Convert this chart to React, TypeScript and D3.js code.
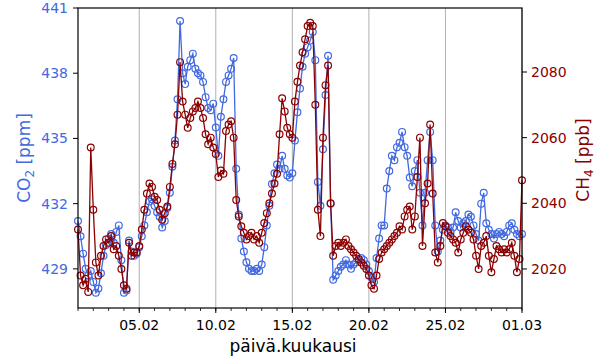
import * as d3 from "d3";
import React from "react";

// 4-hourly samples starting 01.02.2024 00:00
const START = Date.UTC(2024, 1, 1);
const STEP_H = 4;

const co2 = [
  431.2, 430.5, 429.7, 429.0, 428.7, 428.9,
  428.4, 427.9, 428.1, 428.8, 429.6, 430.1,
  430.4, 430.6, 430.2, 430.7, 431.0, 429.4,
  427.9, 428.0, 430.3, 429.8, 429.6, 429.7,
  430.0, 430.5, 431.0, 431.6, 432.1, 432.2,
  431.9, 431.6, 431.4, 430.9, 431.2, 431.8,
  432.5, 433.7, 434.9, 436.8, 440.4, 438.0,
  437.5, 438.3, 438.6, 438.9, 438.2, 438.0,
  437.9, 437.6, 436.9, 436.4, 436.3, 436.6,
  435.5, 434.2, 436.0, 436.8, 437.6, 437.9,
  438.2, 438.7, 433.6, 431.5, 430.4, 429.8,
  429.3, 429.0, 428.9, 428.9, 429.0, 428.9,
  429.2, 430.0, 431.0, 431.9, 432.9, 433.4,
  433.8, 433.6, 434.2, 433.6, 433.3, 433.2,
  433.4, 434.9, 436.2, 437.3, 438.3, 438.9,
  439.2, 439.5, 439.9, 438.6, 433.0, 431.9,
  434.5, 437.0, 438.8, 432.0, 428.5, 428.7,
  428.9, 429.1, 429.2, 429.4, 429.2, 429.0,
  429.2, 429.3, 429.4, 429.5, 429.4, 429.2,
  428.9, 428.6, 428.4, 429.5, 430.4, 431.0,
  431.0, 432.7, 433.5, 434.2, 434.0, 434.6,
  434.8, 435.3, 434.6, 434.2, 433.2, 432.8,
  433.5, 434.0, 432.5, 431.0, 432.5, 434.0,
  435.3, 434.0, 431.0, 429.8, 430.3, 430.8,
  431.0, 430.9, 430.7, 430.9, 431.6, 431.2,
  430.9, 431.1, 431.2, 431.5, 431.4, 431.0,
  430.6, 430.3, 432.0, 432.5, 431.1, 430.8,
  430.6, 430.4, 430.6, 430.7, 430.6, 430.5,
  430.7, 431.0, 431.1, 430.8, 430.6, 430.5,
  430.6,
];

const ch4 = [
  2032, 2018, 2015, 2017, 2013, 2057,
  2038, 2022, 2018, 2024, 2027, 2029,
  2028, 2030, 2026, 2027, 2024, 2020,
  2015, 2014, 2028, 2024, 2025, 2025,
  2027, 2032, 2038, 2043, 2046, 2045,
  2042, 2041, 2038, 2035, 2037, 2039,
  2045, 2052, 2058, 2067, 2083, 2071,
  2067, 2063, 2066, 2068, 2069, 2071,
  2069, 2066, 2061, 2058, 2060, 2057,
  2055, 2048, 2050, 2049, 2062, 2064,
  2065, 2060, 2041, 2036, 2033, 2031,
  2029, 2030, 2031, 2029, 2030, 2028,
  2031, 2034, 2037, 2040, 2043, 2046,
  2049, 2061, 2072, 2068, 2063, 2061,
  2060, 2071, 2077, 2082, 2086, 2090,
  2094, 2095, 2094, 2070, 2038, 2030,
  2060, 2076, 2082, 2040, 2024, 2027,
  2028, 2027, 2028, 2029, 2027, 2026,
  2025, 2024, 2023, 2022, 2021, 2020,
  2018, 2015, 2014, 2018, 2023, 2025,
  2026, 2027, 2028, 2029, 2030, 2031,
  2033, 2032, 2036, 2038, 2039, 2032,
  2036, 2048, 2060, 2027, 2040, 2046,
  2064, 2043, 2025, 2022, 2027, 2034,
  2033, 2031, 2030, 2029, 2028, 2025,
  2029, 2031, 2033, 2032, 2031, 2029,
  2024, 2020, 2027, 2028, 2030, 2024,
  2019, 2023, 2027, 2026, 2025, 2026,
  2025, 2026, 2028, 2024, 2019, 2023,
  2047,
];

const co2Ticks = [429, 432, 435, 438, 441];
const ch4Ticks = [2020, 2040, 2060, 2080];
const xMajorDays = [4, 9, 14, 19, 24, 29]; // day offsets from 01.02 (29 -> 01.03)

const W = 600;
const H = 360;
const margin = { top: 8, right: 78, bottom: 52, left: 78 };
const BLUE = "#4169e1";
const RED = "#8b0000";
const FONT = "DejaVu Sans, sans-serif";

const App = () => {
  const x = d3
    .scaleUtc()
    .domain([new Date(START), new Date(Date.UTC(2024, 2, 1))])
    .range([margin.left, W - margin.right]);
  const yL = d3.scaleLinear().domain([427.2, 441]).range([H - margin.bottom, margin.top]);
  const yR = d3.scaleLinear().domain([2008.1, 2099.5]).range([H - margin.bottom, margin.top]);

  const t = (i) => new Date(START + i * STEP_H * 3600 * 1000);
  const fmt = d3.utcFormat("%d.%m");
  const majors = xMajorDays.map((d) => d3.utcDay.offset(new Date(START), d));
  const minors = d3.utcDay.range(new Date(START), new Date(Date.UTC(2024, 2, 1, 1)));

  const lineL = d3
    .line()
    .x((d, i) => x(t(i)))
    .y((d) => yL(d));
  const lineR = d3
    .line()
    .x((d, i) => x(t(i)))
    .y((d) => yR(d));

  const x0 = margin.left;
  const x1 = W - margin.right;
  const y0 = margin.top;
  const y1 = H - margin.bottom;

  return (
    <svg width={W} height={H} style={{ position: "absolute", left: 0, top: 0, background: "#fff" }} fontFamily={FONT}>
      <rect width={W} height={H} fill="#fff" />
      {/* grid */}
      {majors.map((d, i) => (
        <line key={"g" + i} x1={x(d)} x2={x(d)} y1={y0} y2={y1} stroke="#b0b0b0" strokeWidth={1} />
      ))}
      {/* CO2 */}
      <path d={lineL(co2)} fill="none" stroke={BLUE} strokeWidth={1.3} />
      {co2.map((v, i) => (
        <circle key={"b" + i} cx={x(t(i))} cy={yL(v)} r={3.4} fill="none" stroke={BLUE} strokeWidth={1.2} />
      ))}
      {/* CH4 */}
      <path d={lineR(ch4)} fill="none" stroke={RED} strokeWidth={1.3} />
      {ch4.map((v, i) => (
        <circle key={"r" + i} cx={x(t(i))} cy={yR(v)} r={3.4} fill="none" stroke={RED} strokeWidth={1.2} />
      ))}
      {/* frame */}
      <rect x={x0} y={y0} width={x1 - x0} height={y1 - y0} fill="none" stroke="#000" strokeWidth={1.2} />
      {/* x axis */}
      {minors.map((d, i) => (
        <line key={"m" + i} x1={x(d)} x2={x(d)} y1={y1} y2={y1 + 3} stroke="#000" strokeWidth={0.8} />
      ))}
      {majors.map((d, i) => (
        <g key={"xt" + i}>
          <line x1={x(d)} x2={x(d)} y1={y1} y2={y1 + 5} stroke="#000" strokeWidth={1} />
          <text x={x(d)} y={y1 + 22} textAnchor="middle" fontSize={14} fill="#000">
            {fmt(d)}
          </text>
        </g>
      ))}
      <text x={293} y={352} textAnchor="middle" fontSize={17} fill="#000">
        päivä.kuukausi
      </text>
      {/* left axis */}
      {co2Ticks.map((v) => (
        <g key={"l" + v}>
          <line x1={x0 - 5} x2={x0} y1={yL(v)} y2={yL(v)} stroke="#000" strokeWidth={1} />
          <text x={x0 - 10} y={yL(v)} dy="0.36em" textAnchor="end" fontSize={14} fill={BLUE}>
            {v}
          </text>
        </g>
      ))}
      <text transform={`translate(30,158) rotate(-90)`} textAnchor="middle" fontSize={17} fill={BLUE}>
        CO<tspan fontSize={12} dy={4}>2</tspan>
        <tspan dy={-4}> [ppm]</tspan>
      </text>
      {/* right axis */}
      {ch4Ticks.map((v) => (
        <g key={"r" + v}>
          <line x1={x1} x2={x1 + 5} y1={yR(v)} y2={yR(v)} stroke="#000" strokeWidth={1} />
          <text x={x1 + 9} y={yR(v)} dy="0.36em" textAnchor="start" fontSize={14} fill={RED}>
            {v}
          </text>
        </g>
      ))}
      <text transform={`translate(589,160) rotate(-90)`} textAnchor="middle" fontSize={17} fill={RED}>
        CH<tspan fontSize={12} dy={4}>4</tspan>
        <tspan dy={-4}> [ppb]</tspan>
      </text>
    </svg>
  );
};

export default App;
